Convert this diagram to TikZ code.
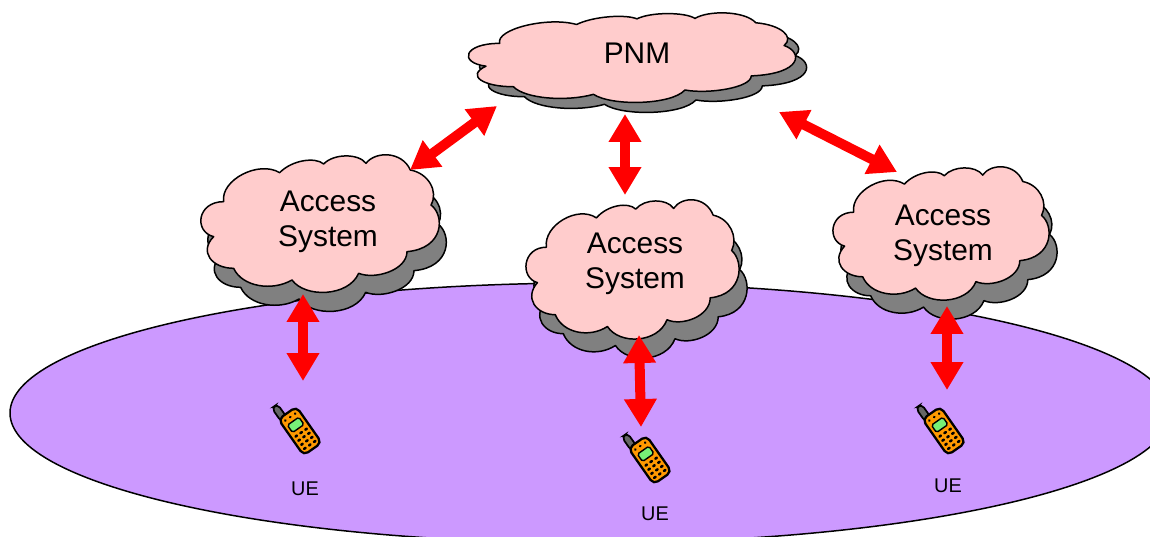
\documentclass[tikz,border=0pt]{standalone}
\usepackage{fontspec}
\setmainfont{Liberation Sans}
\usetikzlibrary{arrows.meta}
\definecolor{cloudpink}{HTML}{FFCCCC}
\definecolor{cloudgrey}{HTML}{808080}
\definecolor{areaviolet}{HTML}{CC99FF}
\definecolor{phoneorange}{HTML}{FF9900}
\definecolor{phonegreen}{HTML}{77F077}
\tikzset{
    link/.style={red,line width=0.2cm,{Triangle[length=0.56cm,width=0.62cm]}-{Triangle[length=0.56cm,width=0.62cm]}},
    cloudtext/.style={align=center,font=\fontsize{17}{19.8}\selectfont},
    uetext/.style={font=\fontsize{11.3}{13}\selectfont},
    cloudline/.style={draw=black,line width=0.85pt,line join=round},
    cloudform/.pic={
        \path[pic actions] (65,140) .. controls (55,75) and (170,15) .. (233,53)
            .. controls (270,15) and (340,5) .. (365,27)
            .. controls (395,-5) and (470,-5) .. (492,25)
            .. controls (520,-12) and (600,-12) .. (625,45)
            .. controls (680,55) and (710,110) .. (687,150)
            .. controls (728,180) and (728,280) .. (615,290)
            .. controls (615,345) and (520,375) .. (470,355)
            .. controls (440,425) and (310,430) .. (270,375)
            .. controls (210,410) and (120,395) .. (95,340)
            .. controls (30,340) and (-10,290) .. (35,245)
            .. controls (-25,230) and (-15,140) .. (65,140) -- cycle;
    },
    phone/.pic={
        \draw[black,fill=cloudgrey!80!black,line width=1pt,rounded corners=2.5pt] (-10,-18) rectangle (-3,-35);
        \draw[black,fill=phoneorange,line width=1.3pt,rounded corners=3pt] (-11,-22) rectangle (11,22);
        \draw[black,fill=phonegreen,line width=0.8pt,rounded corners=1pt] (-7,-12) rectangle (7,-3);
        \foreach \kx in {-6,0,6} {
            \fill[black] (\kx,-17) circle (1.4);
            \foreach \ky in {2,7,12,17}
                \fill[black] (\kx,\ky) ellipse (2 and 1.4);
        }
    }
}
\begin{document}
\begin{tikzpicture}[x=0.02cm,y=-0.02cm]
    \clip (0,0) rectangle (1150,537);
    \path[use as bounding box] (0,0) rectangle (1150,537);
    \draw[fill=areaviolet,line width=0.85pt] (590,413) ellipse (580 and 130);
    % clouds: grey copy first, pink on top
    \pic[cloudline,fill=cloudgrey,xscale=0.3333,yscale=0.3333] at (209,174) {cloudform};
    \pic[cloudline,fill=cloudpink,xscale=0.3333,yscale=0.3333] at (202,155) {cloudform};
    \pic[cloudline,fill=cloudgrey,xscale=0.2979,yscale=0.3373] at (535,219) {cloudform};
    \pic[cloudline,fill=cloudpink,xscale=0.2979,yscale=0.3373] at (527,200) {cloudform};
    \pic[cloudline,fill=cloudgrey,xscale=0.3021,yscale=0.3229] at (842,186) {cloudform};
    \pic[cloudline,fill=cloudpink,xscale=0.3021,yscale=0.3229] at (834,167) {cloudform};
    \pic[cloudline,fill=cloudgrey,xscale=0.4573,yscale=0.2169] at (481,23) {cloudform};
    \pic[cloudline,fill=cloudpink,xscale=0.4573,yscale=0.2169] at (470,13) {cloudform};
    \node[cloudtext] (pnm) at (637,53) {PNM};
    \node[cloudtext] (accessa) at (328,222) {Access\\System};
    \node[cloudtext] (accessb) at (635,264) {Access\\System};
    \node[cloudtext] (accessc) at (943,236) {Access\\System};
    \pic[rotate=35] at (300,431) {phone};
    \pic[rotate=35] at (650,460) {phone};
    \pic[rotate=35] at (944,431) {phone};
    \node[uetext] (uea) at (305,489) {UE};
    \node[uetext] (ueb) at (655,514) {UE};
    \node[uetext] (uec) at (948,486) {UE};
    \coordinate (pnmleft) at (497,106);
    \coordinate (pnmmid) at (625,114);
    \coordinate (pnmright) at (779,112);
    \coordinate (accessatop) at (410,170);
    \coordinate (accessbtop) at (625,195);
    \coordinate (accessctop) at (897,172);
    \coordinate (accessabot) at (303,294);
    \coordinate (accessbbot) at (639,335);
    \coordinate (accesscbot) at (947,306);
    \coordinate (phonea) at (303,381);
    \coordinate (phoneb) at (641,427);
    \coordinate (phonec) at (947,390);
    \draw[link] (pnmleft) -- (accessatop);
    \draw[link] (pnmmid) -- (accessbtop);
    \draw[link] (pnmright) -- (accessctop);
    \draw[link] (accessabot) -- (phonea);
    \draw[link] (accessbbot) -- (phoneb);
    \draw[link] (accesscbot) -- (phonec);
\end{tikzpicture}
\end{document}
